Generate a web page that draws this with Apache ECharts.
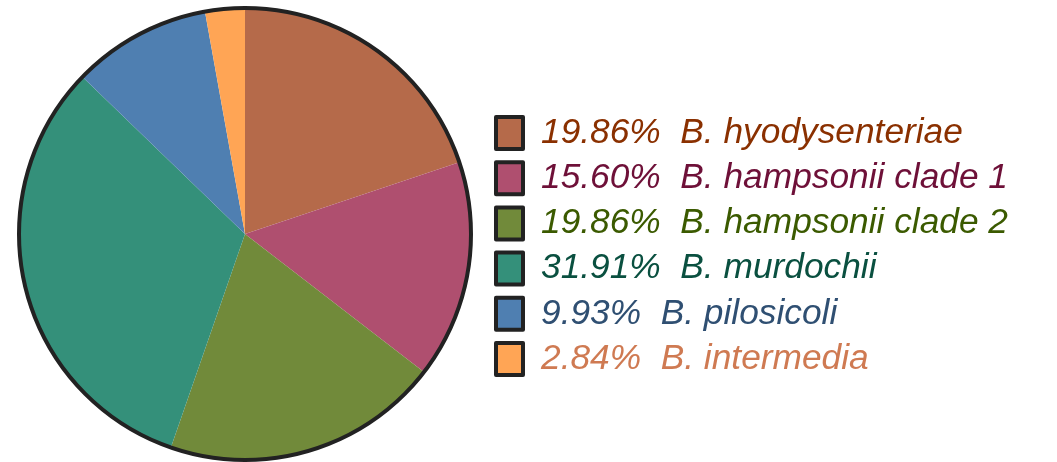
<!DOCTYPE html>
<html>
<head>
<meta charset="utf-8">
<script src="https://cdn.jsdelivr.net/npm/echarts@6/dist/echarts.min.js"></script>
<style>html,body{margin:0;padding:0;background:#fff}#c{width:1057px;height:462px}</style>
</head>
<body>
<div id="c"></div>
<script>
var categories = ['B. hyodysenteriae', 'B. hampsonii clade 1', 'B. hampsonii clade 2', 'B. murdochii', 'B. pilosicoli', 'B. intermedia'];
var counts = [28, 22, 28, 45, 14, 4];
var sliceColors = ['#b56a4a', '#af4f6f', '#718a3a', '#34907a', '#4f7fb1', '#ffa555'];
var textColors = ['#8a3000', '#6e1038', '#3b5a00', '#0a5040', '#2f4f72', '#cf7a52'];

var total = counts.reduce(function (a, b) { return a + b; }, 0);
var pctByName = {};
categories.forEach(function (n, i) { pctByName[n] = (counts[i] / total * 100).toFixed(2) + '%'; });

var chart = echarts.init(document.getElementById('c'));
chart.setOption({
  animation: false,
  legend: {
    orient: 'vertical',
    left: 494,
    top: 115,
    padding: 0,
    itemWidth: 27,
    itemHeight: 32,
    itemGap: 9.2,
    icon: 'rect',
    selectedMode: false,
    itemStyle: { borderColor: '#222', borderWidth: 4 },
    textStyle: { fontSize: 35.3, fontStyle: 'italic', fontFamily: 'Liberation Sans, Arial, sans-serif', padding: [0, 0, 0, 13] },
    formatter: function (name) { return pctByName[name] + '  ' + name; },
    data: categories.map(function (n, i) { return { name: n, textStyle: { color: textColors[i] } }; })
  },
  series: [
    {
      type: 'pie',
      center: [245, 234],
      radius: [0, 226],
      startAngle: 90,
      clockwise: true,
      label: { show: false },
      labelLine: { show: false },
      silent: true,
      itemStyle: { borderWidth: 0 },
      data: categories.map(function (n, i) { return { name: n, value: counts[i], itemStyle: { color: sliceColors[i] } }; })
    },
    {
      type: 'pie',
      center: [245, 234],
      radius: [0, 226],
      silent: true,
      label: { show: false },
      labelLine: { show: false },
      itemStyle: { color: 'rgba(0,0,0,0)', borderColor: '#222', borderWidth: 4 },
      data: [{ name: '_outline', value: total }]
    }
  ]
});
</script>
</body>
</html>
